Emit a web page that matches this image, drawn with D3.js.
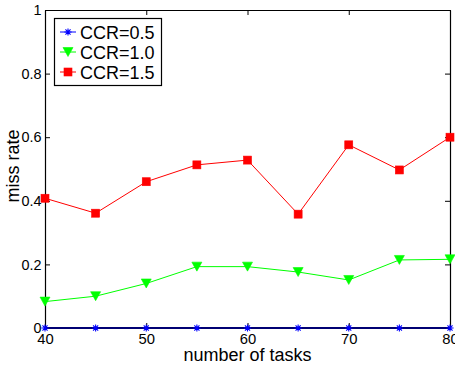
<!DOCTYPE html>
<html>
<head>
<meta charset="utf-8">
<script src="https://cdn.jsdelivr.net/npm/d3@7"></script>
<style>
  html, body { margin: 0; padding: 0; background: #fff; }
  svg { display: block; font-family: "Liberation Sans", Arial, Helvetica, sans-serif; }
</style>
</head>
<body>
<svg id="chart" width="455" height="368"></svg>
<script>
// Task counts on the x axis
const tasks = [40, 45, 50, 55, 60, 65, 70, 75, 80];
// Miss rate for each communication-to-computation ratio
const ccr05 = [0, 0, 0, 0, 0, 0, 0, 0, 0];
const ccr10 = [0.083, 0.100, 0.140, 0.193, 0.193, 0.176, 0.151, 0.214, 0.216];
const ccr15 = [0.408, 0.361, 0.460, 0.513, 0.528, 0.358, 0.576, 0.497, 0.600];
const seriesNames = ["CCR=0.5", "CCR=1.0", "CCR=1.5"];
const xTicks = [40, 50, 60, 70, 80];
const yTicks = [0, 0.2, 0.4, 0.6, 0.8, 1];

const series = [
  { name: seriesNames[0], values: ccr05, color: "#0000ff", marker: "star" },
  { name: seriesNames[1], values: ccr10, color: "#00ff00", marker: "tri" },
  { name: seriesNames[2], values: ccr15, color: "#ff0000", marker: "square" }
];

const svg = d3.select("#chart");
const L = 45, R = 450, T = 10, B = 328;

const x = d3.scaleLinear().domain([40, 80]).range([L, R]);
const y = d3.scaleLinear().domain([0, 1]).range([B, T]);

const tickLen = 5;
const fmtY = d => (d === 0 ? "0" : d === 1 ? "1" : d3.format(".1f")(d));

// Axes: bottom/left labelled, top/right as box edges; ticks point inward
const gB = svg.append("g").attr("transform", `translate(0,${B})`)
  .call(d3.axisBottom(x).tickValues(xTicks).tickSizeInner(-tickLen).tickSizeOuter(0).tickPadding(5).tickFormat(d3.format("d")));
const gL = svg.append("g").attr("transform", `translate(${L},0)`)
  .call(d3.axisLeft(y).tickValues(yTicks).tickSizeInner(-tickLen).tickSizeOuter(0).tickPadding(3.5).tickFormat(fmtY));
const gT = svg.append("g").attr("transform", `translate(0,${T})`)
  .call(d3.axisTop(x).tickValues(xTicks).tickSizeInner(-tickLen).tickSizeOuter(0).tickFormat(""));
const gR = svg.append("g").attr("transform", `translate(${R},0)`)
  .call(d3.axisRight(y).tickValues(yTicks).tickSizeInner(-tickLen).tickSizeOuter(0).tickFormat(""));

[gB, gL, gT, gR].forEach(g => {
  g.selectAll("path.domain").attr("stroke", "#000").attr("stroke-width", 1.2);
  g.selectAll(".tick line").attr("stroke", "#000");
  g.selectAll("text").attr("fill", "#000")
    .attr("font-family", "'Liberation Sans', Arial, sans-serif");
});
gB.selectAll("text").attr("font-size", 14.8);
gL.selectAll("text").attr("font-size", 14.4);

// Axis titles
svg.append("text")
  .attr("x", (L + R) / 2).attr("y", 360.5)
  .attr("text-anchor", "middle").attr("font-size", 18)
  .text("number of tasks");
svg.append("text")
  .attr("transform", `translate(18.5,166) rotate(-90)`)
  .attr("text-anchor", "middle").attr("font-size", 18)
  .text("miss rate");

// Marker drawing
function drawMarker(g, type, color) {
  if (type === "square") {
    g.append("rect").attr("x", -4).attr("y", -4).attr("width", 8).attr("height", 8)
      .attr("fill", color).attr("stroke", color).attr("stroke-width", 0.6);
  } else if (type === "tri") {
    g.append("path").attr("d", "M-5,-4.5L5,-4.5L0,4.5Z")
      .attr("fill", color).attr("stroke", color).attr("stroke-width", 0.6);
  } else {
    const r = 3.6;
    const d = [0, 45, 90, 135].map(a => {
      const t = a * Math.PI / 180;
      return `M${-r * Math.cos(t)},${-r * Math.sin(t)}L${r * Math.cos(t)},${r * Math.sin(t)}`;
    }).join("");
    g.append("path").attr("d", d).attr("stroke", color).attr("stroke-width", 1.1).attr("fill", "none");
  }
}

const line = d3.line().x((d, i) => x(tasks[i])).y(d => y(d));

// Draw series lines (red first; the blue zero line sits on the bottom axis)
series.slice().reverse().forEach(s => {
  svg.append("path").datum(s.values)
    .attr("d", line)
    .attr("fill", "none").attr("stroke", s.color)
    .attr("stroke-width", s.marker === "star" ? 2 : 1);
});

// The black axis edge shows through the blue zero line
svg.append("line")
  .attr("x1", L).attr("x2", R).attr("y1", B).attr("y2", B)
  .attr("stroke", "#000").attr("stroke-width", 2).attr("stroke-opacity", 0.55);

// Markers on top
series.slice().reverse().forEach(s => {
  s.values.forEach((v, i) => {
    const g = svg.append("g").attr("transform", `translate(${x(tasks[i])},${y(v)})`);
    drawMarker(g, s.marker, s.color);
  });
});

// Legend
const lg = svg.append("g");
lg.append("rect").attr("x", 54.5).attr("y", 18.5).attr("width", 107).attr("height", 67)
  .attr("fill", "#fff").attr("stroke", "#000").attr("stroke-width", 1.2);
series.forEach((s, i) => {
  const cy = 32 + i * 20;
  lg.append("line").attr("x1", 60).attr("x2", 76).attr("y1", cy).attr("y2", cy)
    .attr("stroke", s.color).attr("stroke-width", 1);
  const g = lg.append("g").attr("transform", `translate(68,${cy})`);
  drawMarker(g, s.marker, s.color);
  lg.append("text").attr("x", 80).attr("y", cy + 6.5)
    .attr("font-size", 18).attr("fill", "#000").text(s.name);
});
</script>
</body>
</html>
